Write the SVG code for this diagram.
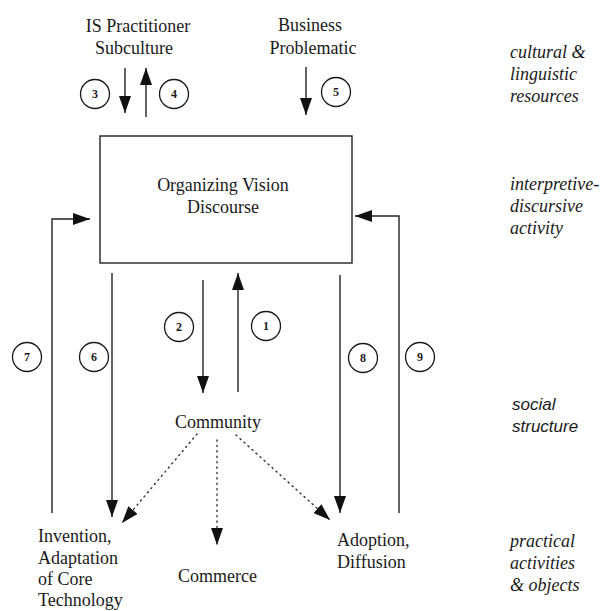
<svg xmlns="http://www.w3.org/2000/svg" width="602" height="611" viewBox="0 0 602 611">
<style>
.t{font-family:"Liberation Serif","Times New Roman",serif;font-size:18px;fill:#1a1a1a}
.i{font-family:"Liberation Serif","Times New Roman",serif;font-size:18px;font-style:italic;fill:#1a1a1a}
.s{font-family:"Liberation Sans",Arial,sans-serif;font-size:17px;font-style:italic;fill:#1a1a1a}
.n{font-family:"Liberation Serif","Times New Roman",serif;font-size:12px;font-weight:bold;fill:#1a1a1a;text-anchor:middle}
.c{fill:none;stroke:#1a1a1a;stroke-width:1.3}
.ln{fill:none;stroke:#222;stroke-width:1.4}
.dot{fill:none;stroke:#333;stroke-width:1.4;stroke-dasharray:1.2 4.2;stroke-linecap:round}
</style>
<defs>
<marker id="ah" viewBox="0 0 17 12" refX="17" refY="6" markerWidth="17" markerHeight="12" markerUnits="userSpaceOnUse" orient="auto">
<path d="M0,0 L17,6 L0,12 z" fill="#111"/>
</marker>
</defs>
<g id="is-practitioner">
<text class="t" x="138" y="32" text-anchor="middle">IS Practitioner</text>
<text class="t" x="134" y="54" text-anchor="middle">Subculture</text>
</g>
<g id="business-problematic">
<text class="t" x="310" y="31" text-anchor="middle">Business</text>
<text class="t" x="313" y="54" text-anchor="middle">Problematic</text>
</g>
<g id="ov-discourse">
<rect x="100" y="136" width="252" height="127" fill="none" stroke="#222" stroke-width="1.4"/>
<text class="t" x="223" y="191" text-anchor="middle">Organizing Vision</text>
<text class="t" x="223" y="213" text-anchor="middle">Discourse</text>
</g>
<g id="community">
<text class="t" x="218" y="428" text-anchor="middle">Community</text>
</g>
<g id="invention">
<text class="t" x="38" y="542">Invention,</text>
<text class="t" x="38" y="564">Adaptation</text>
<text class="t" x="38" y="585">of Core</text>
<text class="t" x="38" y="606">Technology</text>
</g>
<g id="commerce">
<text class="t" x="178" y="582">Commerce</text>
</g>
<g id="adoption">
<text class="t" x="337" y="546">Adoption,</text>
<text class="t" x="337" y="568">Diffusion</text>
</g>
<g id="level-labels">
<text class="i" x="510" y="58">cultural &amp;</text>
<text class="i" x="510" y="80">linguistic</text>
<text class="i" x="510" y="102">resources</text>
<text class="i" x="510" y="190">interpretive-</text>
<text class="i" x="510" y="212">discursive</text>
<text class="i" x="510" y="234">activity</text>
<text class="s" x="512" y="410">social</text>
<text class="s" x="512" y="432">structure</text>
<text class="i" x="510" y="547">practical</text>
<text class="i" x="510" y="569">activities</text>
<text class="i" x="510" y="591">&amp; objects</text>
</g>
<g id="connectors">
<line class="ln" x1="125" y1="68" x2="125" y2="113" marker-end="url(#ah)"/>
<line class="ln" x1="146" y1="117" x2="146" y2="68" marker-end="url(#ah)"/>
<line class="ln" x1="306" y1="67" x2="306" y2="115" marker-end="url(#ah)"/>
<line class="ln" x1="203" y1="280" x2="203" y2="393" marker-end="url(#ah)"/>
<line class="ln" x1="238" y1="392" x2="238" y2="273" marker-end="url(#ah)"/>
<path class="ln" d="M52,513 L52,219 L90,219" marker-end="url(#ah)"/>
<line class="ln" x1="112" y1="273" x2="112" y2="517" marker-end="url(#ah)"/>
<line class="ln" x1="340" y1="275" x2="340" y2="513" marker-end="url(#ah)"/>
<path class="ln" d="M399,513 L399,216 L355,216" marker-end="url(#ah)"/>
<line class="dot" x1="197" y1="434" x2="122" y2="523" marker-end="url(#ah)"/>
<line class="dot" x1="217" y1="440" x2="217" y2="545" marker-end="url(#ah)"/>
<line class="dot" x1="236" y1="435" x2="330" y2="520" marker-end="url(#ah)"/>
</g>
<g id="labels">
<circle class="c" cx="95" cy="94" r="14.5"/><text class="n" x="95" y="98">3</text>
<circle class="c" cx="174" cy="94" r="14.5"/><text class="n" x="174" y="98">4</text>
<circle class="c" cx="336" cy="92" r="14.5"/><text class="n" x="336" y="96">5</text>
<circle class="c" cx="179" cy="327" r="14.5"/><text class="n" x="179" y="331">2</text>
<circle class="c" cx="266" cy="326" r="14.5"/><text class="n" x="266" y="330">1</text>
<circle class="c" cx="27" cy="357" r="14.5"/><text class="n" x="27" y="361">7</text>
<circle class="c" cx="94" cy="357" r="14.5"/><text class="n" x="94" y="361">6</text>
<circle class="c" cx="363" cy="358" r="14.5"/><text class="n" x="363" y="362">8</text>
<circle class="c" cx="420" cy="357" r="14.5"/><text class="n" x="420" y="361">9</text>
</g>
</svg>
